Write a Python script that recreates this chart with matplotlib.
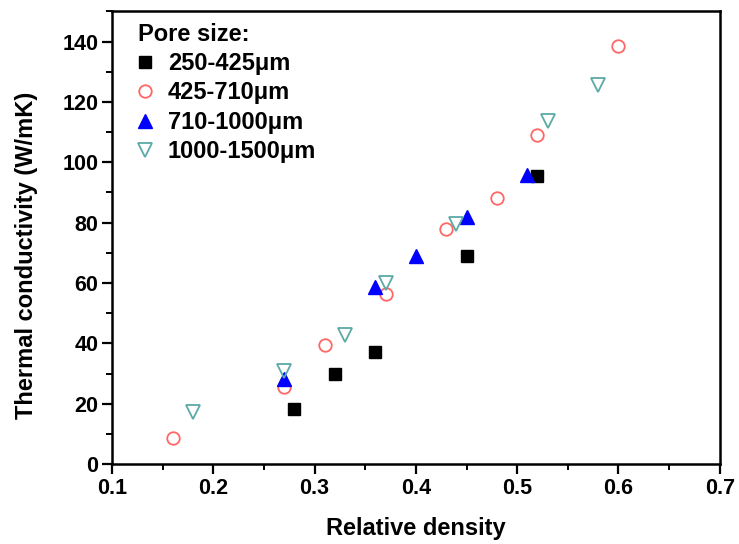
import numpy as np
import matplotlib
matplotlib.use("Agg")
import matplotlib.pyplot as plt
from matplotlib.ticker import MultipleLocator

plt.rcParams['font.family'] = ['Liberation Sans', 'DejaVu Sans']
plt.rcParams['font.weight'] = 'bold'

# data
x_250 = [0.28, 0.32, 0.36, 0.45, 0.52]
y_250 = [18.2, 29.7, 37.1, 69.0, 95.4]

x_425 = [0.16, 0.27, 0.31, 0.37, 0.43, 0.48, 0.52, 0.60]
y_425 = [8.7, 25.6, 39.4, 56.3, 77.9, 88.2, 109.0, 138.5]

x_710 = [0.27, 0.36, 0.40, 0.45, 0.51]
y_710 = [28.3, 58.7, 69.0, 82.0, 95.7]

x_1000 = [0.18, 0.27, 0.33, 0.37, 0.44, 0.53, 0.58]
y_1000 = [17.4, 30.8, 42.6, 60.0, 79.7, 113.6, 125.6]

labels = ['250-425\u03bcm', '425-710\u03bcm', '710-1000\u03bcm', '1000-1500\u03bcm']

fig = plt.figure(figsize=(7.39, 5.44), dpi=100)
ax = fig.add_axes([0.1516, 0.147, 0.8224, 0.832])

ax.plot(x_250, y_250, 's', ms=8, color='black', mec='black', label=labels[0])
ax.plot(x_425, y_425, 'o', ms=9, mfc='none', mec='#ff6666', mew=1.3, label=labels[1])
ax.plot(x_710, y_710, '^', ms=10.5, color='#0000ff', mec='#0000ff', label=labels[2])
ax.plot(x_1000, y_1000, 'v', ms=10.5, mfc='none', mec='#5aaaa6', mew=1.3, label=labels[3])

ax.set_xlim(0.1, 0.7)
ax.set_ylim(0, 150)
ax.xaxis.set_major_locator(MultipleLocator(0.1))
ax.xaxis.set_minor_locator(MultipleLocator(0.05))
ax.yaxis.set_minor_locator(MultipleLocator(10))
ax.set_yticks(np.arange(0, 141, 20))
ax.tick_params(which='major', direction='out', length=7, width=1.6, labelsize=15.5, pad=3)
ax.tick_params(which='minor', direction='out', length=4, width=1.4)
ax.tick_params(top=False, right=False, which='both')
for s in ax.spines.values():
    s.set_linewidth(1.8)

ax.set_xlabel('Relative density', fontsize=17, fontweight='bold')
ax.set_ylabel('Thermal conductivity (W/mK)', fontsize=17, fontweight='bold')
ax.xaxis.set_label_coords(0.5, -0.118)
ax.yaxis.set_label_coords(-0.122, 0.46)

leg = ax.legend(title='Pore size:', loc='upper left', bbox_to_anchor=(0.043, 0.975),
                frameon=False, fontsize=17, title_fontsize=17,
                handletextpad=0.65, labelspacing=0.27, borderaxespad=0,
                handlelength=0.6, borderpad=0)
leg.get_title().set_fontweight('bold')
leg._legend_box.align = 'left'

fig.savefig('out.png', dpi=100)
